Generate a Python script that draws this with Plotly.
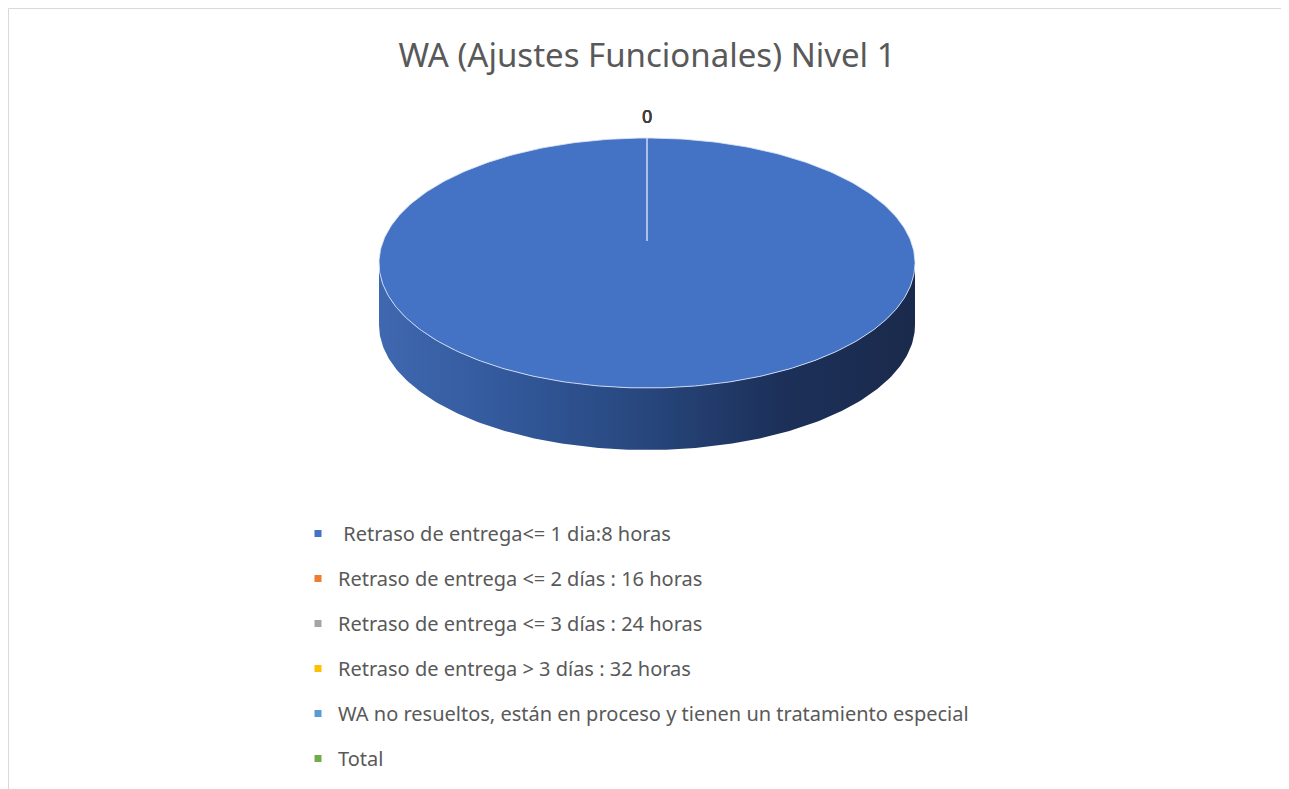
import numpy as np
import plotly.graph_objects as go

title = "WA (Ajustes Funcionales) Nivel 1"
categories = [
    " Retraso de entrega<= 1 dia:8 horas",
    "Retraso de entrega <= 2 días : 16 horas",
    "Retraso de entrega <= 3 días : 24 horas",
    "Retraso de entrega > 3 días : 32 horas",
    "WA no resueltos, están en proceso y tienen un tratamiento especial",
    "Total",
]
values = [1, 0, 0, 0, 0, 0]
colors = ["#4472C4", "#ED7D31", "#A5A5A5", "#FFC000", "#5B9BD5", "#70AD47"]

W, H = 1289, 789
OFF = 8  # page body margin
cx, cy, a, b, depth = 647, 263, 268, 125, 62

fig = go.Figure()

# side wall (front half of the cylinder)
th = np.linspace(np.pi / 2, 3 * np.pi / 2, 200)
xs_top = cx + a * np.sin(th)
ys_top = cy - b * np.cos(th)
side_x = np.concatenate([xs_top, xs_top[::-1]])
side_y = np.concatenate([ys_top, ys_top[::-1] + depth])
fig.add_trace(go.Scatter(
    x=side_x, y=side_y, mode="lines", fill="toself",
    line=dict(width=0, color="rgba(0,0,0,0)"),
    fillgradient=dict(type="horizontal", colorscale=[
        [0.0, "#3f68b0"], [0.25, "#32589a"], [0.5, "#27467c"],
        [0.75, "#1c3059"], [1.0, "#1a2a4c"]]),
    hoverinfo="skip", showlegend=False))

# top face wedges from the data
total = float(sum(values))
cum = 0.0
label_pos = []
for name, v, c in zip(categories, values, colors):
    start = 2 * np.pi * cum / total
    cum += v
    end = 2 * np.pi * cum / total
    if v > 0:
        t = np.linspace(start, end, 400)
        wx = np.concatenate([[cx], cx + a * np.sin(t), [cx]])
        wy = np.concatenate([[cy - 22], cy - b * np.cos(t), [cy - 22]])
        fig.add_trace(go.Scatter(
            x=wx, y=wy, mode="lines", fill="toself", fillcolor=c,
            line=dict(width=1, color="rgba(220,230,248,0.85)"),
            hoverinfo="skip", showlegend=False, name=name))
    else:
        mid = (start + end) / 2
        label_pos.append((cx + (a + 22) * np.sin(mid), cy - (b + 22) * np.cos(mid), v))

for lx, ly, v in label_pos:
    fig.add_annotation(x=lx, y=ly, text=str(v), showarrow=False,
                       font=dict(family="Noto Sans", size=18, color="#404040"))

# legend entries
for i, (name, c) in enumerate(zip(categories, colors)):
    fig.add_trace(go.Scatter(
        x=[None], y=[None], mode="markers", name=name,
        marker=dict(symbol="square", size=7, color=c),
        legendgroup=f"g{i}", showlegend=True))

fig.add_shape(type="rect", xref="x", yref="y", x0=OFF + 0.5, y0=8.5, x1=W + 20, y1=H + 20,
              line=dict(color="#d9d9d9", width=1), fillcolor="rgba(0,0,0,0)", layer="below")

fig.update_layout(
    width=W, height=H,
    margin=dict(l=0, r=0, t=0, b=0),
    paper_bgcolor="white", plot_bgcolor="white",
    title=dict(text=title, x=(647 - OFF) / W, xanchor="center", y=1 - (55 - OFF) / H,
               yanchor="middle",
               font=dict(family="Noto Sans", size=33, color="#595959")),
    xaxis=dict(range=[OFF, W + OFF], visible=False, fixedrange=True),
    yaxis=dict(range=[H + OFF, OFF], visible=False, fixedrange=True),
    showlegend=True,
    legend=dict(x=(298 - OFF) / W, xanchor="left", y=1 - (514 - OFF) / H, yanchor="top",
                font=dict(family="Noto Sans", size=20, color="#595959"),
                tracegroupgap=16, itemsizing="trace", bgcolor="rgba(0,0,0,0)"),
)

fig.write_html("out.html")
